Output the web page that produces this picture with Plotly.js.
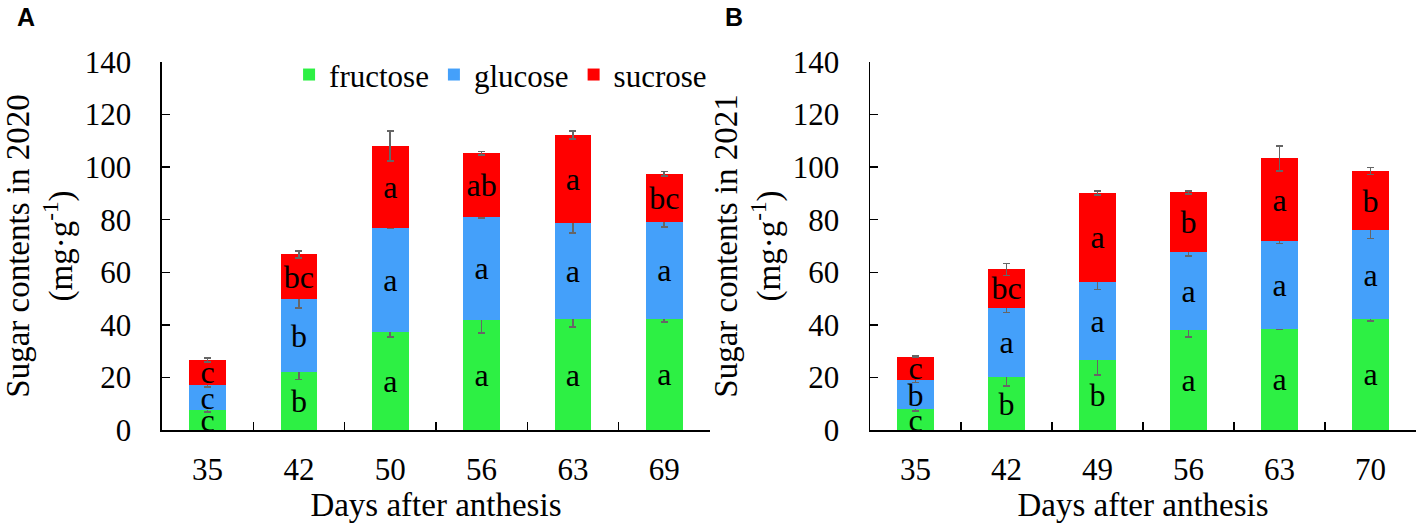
<!DOCTYPE html>
<html>
<head>
<meta charset="utf-8">
<script src="https://cdn.plot.ly/plotly-3.0.1.min.js"></script>
<style>
html,body{margin:0;padding:0;background:#fff;}
#chart{width:1417px;height:527px;}
</style>
</head>
<body>
<div id="chart"></div>
<script>
// ---- Data ----
const daysA = ["35", "42", "50", "56", "63", "69"];
const daysB = ["35", "42", "49", "56", "63", "70"];

// Panel A (2020)
const fructoseA = [7.5, 22.0, 37.4, 41.7, 42.1, 42.3];
const glucoseA  = [9.7, 27.7, 39.4, 39.5, 36.7, 36.9];
const sucroseA  = [9.5, 17.1, 31.2, 24.1, 33.4, 18.3];
const fructoseErrA = [0.7, 2.8, 2.1, 4.7, 3.0, 1.3];
const glucoseErrA  = [0.8, 3.3, 0.2, 0.5, 3.8, 2.0];
const sucroseErrA  = [0.8, 1.3, 5.7, 0.6, 1.6, 0.9];
const fructoseLetA = ["c", "b", "a", "a", "a", "a"];
const glucoseLetA  = ["c", "b", "a", "a", "a", "a"];
const sucroseLetA  = ["c", "bc", "a", "ab", "a", "bc"];

// Panel B (2021)
const fructoseB = [7.9, 20.0, 26.5, 38.2, 38.6, 42.4];
const glucoseB  = [11.0, 26.6, 29.8, 29.6, 33.2, 33.5];
const sucroseB  = [9.0, 14.5, 33.9, 22.6, 31.5, 22.6];
const fructoseErrB = [0.6, 3.2, 5.5, 2.8, 0.4, 1.0];
const glucoseErrB  = [0.9, 1.9, 2.9, 1.5, 0.9, 3.1];
const sucroseErrB  = [0.3, 2.3, 0.7, 0.6, 4.7, 1.3];
const fructoseLetB = ["c", "b", "b", "a", "a", "a"];
const glucoseLetB  = ["b", "a", "a", "a", "a", "a"];
const sucroseLetB  = ["c", "bc", "a", "b", "a", "b"];

const seriesNames = ["fructose", "glucose", "sucrose"];
const yTitleA = "Sugar contents in 2020<br>(mg·g<sup>-1</sup>)";
const yTitleB = "Sugar contents in 2021<br>(mg·g<sup>-1</sup>)";
const xTitle = "Days after anthesis";

// ---- Styling ----
const colors = ["#2DF044", "#44A0FA", "#FF0000"];
const serif = "Liberation Serif, Times New Roman, serif";
const FS = 31;

function barTrace(x, y, err, txt, idx, xa, ya, showLeg) {
  return {
    type: "bar", x: x, y: y, name: seriesNames[idx],
    xaxis: xa, yaxis: ya, showlegend: showLeg, legendgroup: seriesNames[idx],
    marker: {color: colors[idx], line: {width: 0}},
    text: txt, textposition: "inside", insidetextanchor: "middle",
    textangle: 0, constraintext: "none",
    insidetextfont: {family: serif, size: 32, color: "#000"},
    error_y: {type: "data", array: err, visible: true, color: "#666666", thickness: 1.6, width: 3.5},
    hoverinfo: "none"
  };
}

const data = [
  barTrace(daysA, fructoseA, fructoseErrA, fructoseLetA, 0, "x", "y", true),
  barTrace(daysA, glucoseA, glucoseErrA, glucoseLetA, 1, "x", "y", true),
  barTrace(daysA, sucroseA, sucroseErrA, sucroseLetA, 2, "x", "y", true),
  barTrace(daysB, fructoseB, fructoseErrB, fructoseLetB, 0, "x2", "y2", false),
  barTrace(daysB, glucoseB, glucoseErrB, glucoseLetB, 1, "x2", "y2", false),
  barTrace(daysB, sucroseB, sucroseErrB, sucroseLetB, 2, "x2", "y2", false)
];

function xAxis(domain, anchor) {
  return {
    domain: domain, anchor: anchor, type: "category",
    showline: true, linecolor: "#000", linewidth: 1.5, mirror: false,
    ticks: "inside", ticklen: 8, tickwidth: 1.5, tickcolor: "#000",
    tickson: "boundaries", showgrid: false, zeroline: false,
    tickfont: {family: serif, size: FS, color: "#000"},
    ticklabelstandoff: 11,
    title: {text: xTitle, font: {family: serif, size: 33, color: "#000"}, standoff: 5},
    fixedrange: true
  };
}
function yAxis(anchor, title) {
  return {
    anchor: anchor, range: [0, 140], dtick: 20, tick0: 0,
    showline: true, linecolor: "#000", linewidth: 1.5,
    ticks: "inside", ticklen: 8, tickwidth: 1.5, tickcolor: "#000",
    showgrid: false, zeroline: false,
    tickfont: {family: serif, size: FS, color: "#000"},
    ticklabelstandoff: 23,
    title: {text: title, font: {family: serif, size: 33, color: "#000"}, standoff: 2},
    fixedrange: true
  };
}

const layout = {
  width: 1417, height: 527,
  margin: {l: 0, r: 0, t: 62, b: 97},
  paper_bgcolor: "#fff", plot_bgcolor: "#fff",
  barmode: "stack", bargap: 0.6,
  showlegend: true,
  legend: {
    orientation: "h", x: 0.204, xanchor: "left", y: 0.965, yanchor: "middle",
    font: {family: serif, size: 31, color: "#000"},
    bgcolor: "rgba(0,0,0,0)", itemclick: false, itemdoubleclick: false,
    traceorder: "normal", tracegroupgap: 0
  },
  xaxis: xAxis([0.1143, 0.501], "y"),
  yaxis: yAxis("x", yTitleA),
  xaxis2: xAxis([0.614, 0.9993], "y2"),
  yaxis2: yAxis("x2", yTitleB),
  annotations: [
    {text: "<b>A</b>", xref: "paper", yref: "paper", x: 15/1417, xanchor: "left",
     y: 1 + (62-17)/368, yanchor: "middle", showarrow: false,
     font: {family: "Liberation Sans, Arial, sans-serif", size: 25, color: "#000"}},
    {text: "<b>B</b>", xref: "paper", yref: "paper", x: 723/1417, xanchor: "left",
     y: 1 + (62-17)/368, yanchor: "middle", showarrow: false,
     font: {family: "Liberation Sans, Arial, sans-serif", size: 25, color: "#000"}}
  ]
};

Plotly.newPlot("chart", data, layout, {displayModeBar: false, staticPlot: true});
</script>
</body>
</html>
